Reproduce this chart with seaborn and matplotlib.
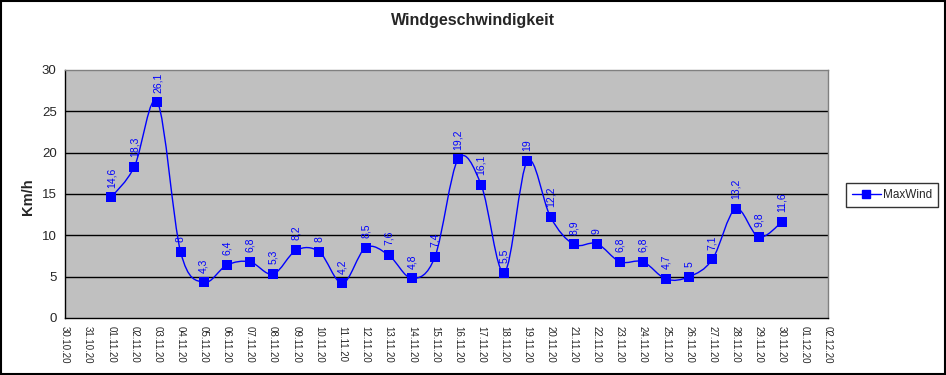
import matplotlib
matplotlib.use("Agg")
import matplotlib.pyplot as plt
import seaborn as sns
import pandas as pd
import numpy as np
from matplotlib.path import Path
from matplotlib.patches import PathPatch, Rectangle
from matplotlib.lines import Line2D

tick_labels = ["30.10.20", "31.10.20"] + [f"{d:02d}.11.20" for d in range(1, 31)] + ["01.12.20", "02.12.20"]
dates = [f"{d:02d}.11.20" for d in range(1, 31)]
max_wind = [14.6, 18.3, 26.1, 8, 4.3, 6.4, 6.8, 5.3, 8.2, 8, 4.2, 8.5, 7.6, 4.8, 7.4,
            19.2, 16.1, 5.5, 19, 12.2, 8.9, 9, 6.8, 6.8, 4.7, 5, 7.1, 13.2, 9.8, 11.6]

sns.set_theme(style="white")
plt.rcParams['font.family'] = ['Liberation Sans', 'DejaVu Sans']

df = pd.DataFrame({"date": dates, "MaxWind": max_wind})
df["pos"] = [tick_labels.index(d) for d in df["date"]]

fig = plt.figure(figsize=(9.46, 3.75), dpi=100)
fig.patch.set_facecolor("white")
fig.add_artist(Rectangle((0.0015, 0.003), 0.997, 0.994, transform=fig.transFigure,
                         fill=False, edgecolor="black", linewidth=1.5))

ax = fig.add_axes([65/946, 1-318/375, (828-65)/946, (318-70)/375])
ax.set_facecolor("#C0C0C0")

# smooth curve (Catmull-Rom style Bezier through the points)
xs = df["pos"].to_numpy(dtype=float)
ys = df["MaxWind"].to_numpy(dtype=float)
verts = [(xs[0], ys[0])]
codes = [Path.MOVETO]
n = len(xs)
for i in range(n - 1):
    p0 = np.array([xs[max(i-1, 0)], ys[max(i-1, 0)]])
    p1 = np.array([xs[i], ys[i]])
    p2 = np.array([xs[i+1], ys[i+1]])
    p3 = np.array([xs[min(i+2, n-1)], ys[min(i+2, n-1)]])
    c1 = p1 + (p2 - p0) / 6
    c2 = p2 - (p3 - p1) / 6
    verts += [tuple(c1), tuple(c2), tuple(p2)]
    codes += [Path.CURVE4] * 3
ax.add_patch(PathPatch(Path(verts, codes), fill=False, edgecolor="#0000FF", linewidth=1.0, zorder=3))

sns.scatterplot(data=df, x="pos", y="MaxWind", marker="s", s=42, color="#0000FF",
                edgecolor="#0000FF", linewidth=0, ax=ax, zorder=4, legend=False)

for x, y in zip(xs, ys):
    lab = f"{y:g}".replace(".", ",")
    ax.annotate(lab, (x, y), xytext=(0, 7), textcoords="offset points",
                rotation=90, ha="center", va="bottom", color="#0000FF", fontsize=7.5)

ax.set_xlim(0, len(tick_labels) - 1)
ax.set_ylim(0, 30)
ax.set_xticks(range(len(tick_labels)))
ax.set_xticklabels(tick_labels, rotation=-90, fontsize=7, va="top", ha="center")
ax.set_yticks(range(0, 31, 5))
ax.set_yticklabels([str(v) for v in range(0, 31, 5)], fontsize=9.5)
for v in range(5, 30, 5):
    ax.axhline(v, color="black", linewidth=1.0, zorder=1)
ax.tick_params(axis="both", direction="out", length=4, width=0.8, color="black", pad=2)
ax.tick_params(axis="x", pad=2)
for side in ["left", "bottom"]:
    ax.spines[side].set_color("black")
    ax.spines[side].set_linewidth(1.0)
for side in ["top", "right"]:
    ax.spines[side].set_color("#808080")
    ax.spines[side].set_linewidth(1.0)
ax.set_xlabel("")
ax.set_ylabel("")
fig.text(28/946, 1-197/375, "Km/h", rotation=90, ha="center", va="center",
         fontsize=10.5, fontweight="bold")

fig.text(473/946, 1-21/375, "Windgeschwindigkeit", ha="center", va="center",
         fontsize=11.5, fontweight="bold")

handle = Line2D([], [], color="#0000FF", marker="s", markersize=5.5, linewidth=1.0)
leg = fig.legend([handle], ["MaxWind"], loc="center", bbox_to_anchor=(892/946, 1-195/375),
                 frameon=True, fancybox=False, fontsize=8.5, handlelength=2.5,
                 borderpad=0.5, handletextpad=0.2)
leg.get_frame().set_edgecolor("black")
leg.get_frame().set_linewidth(1.0)

fig.savefig("out.png", dpi=100)
